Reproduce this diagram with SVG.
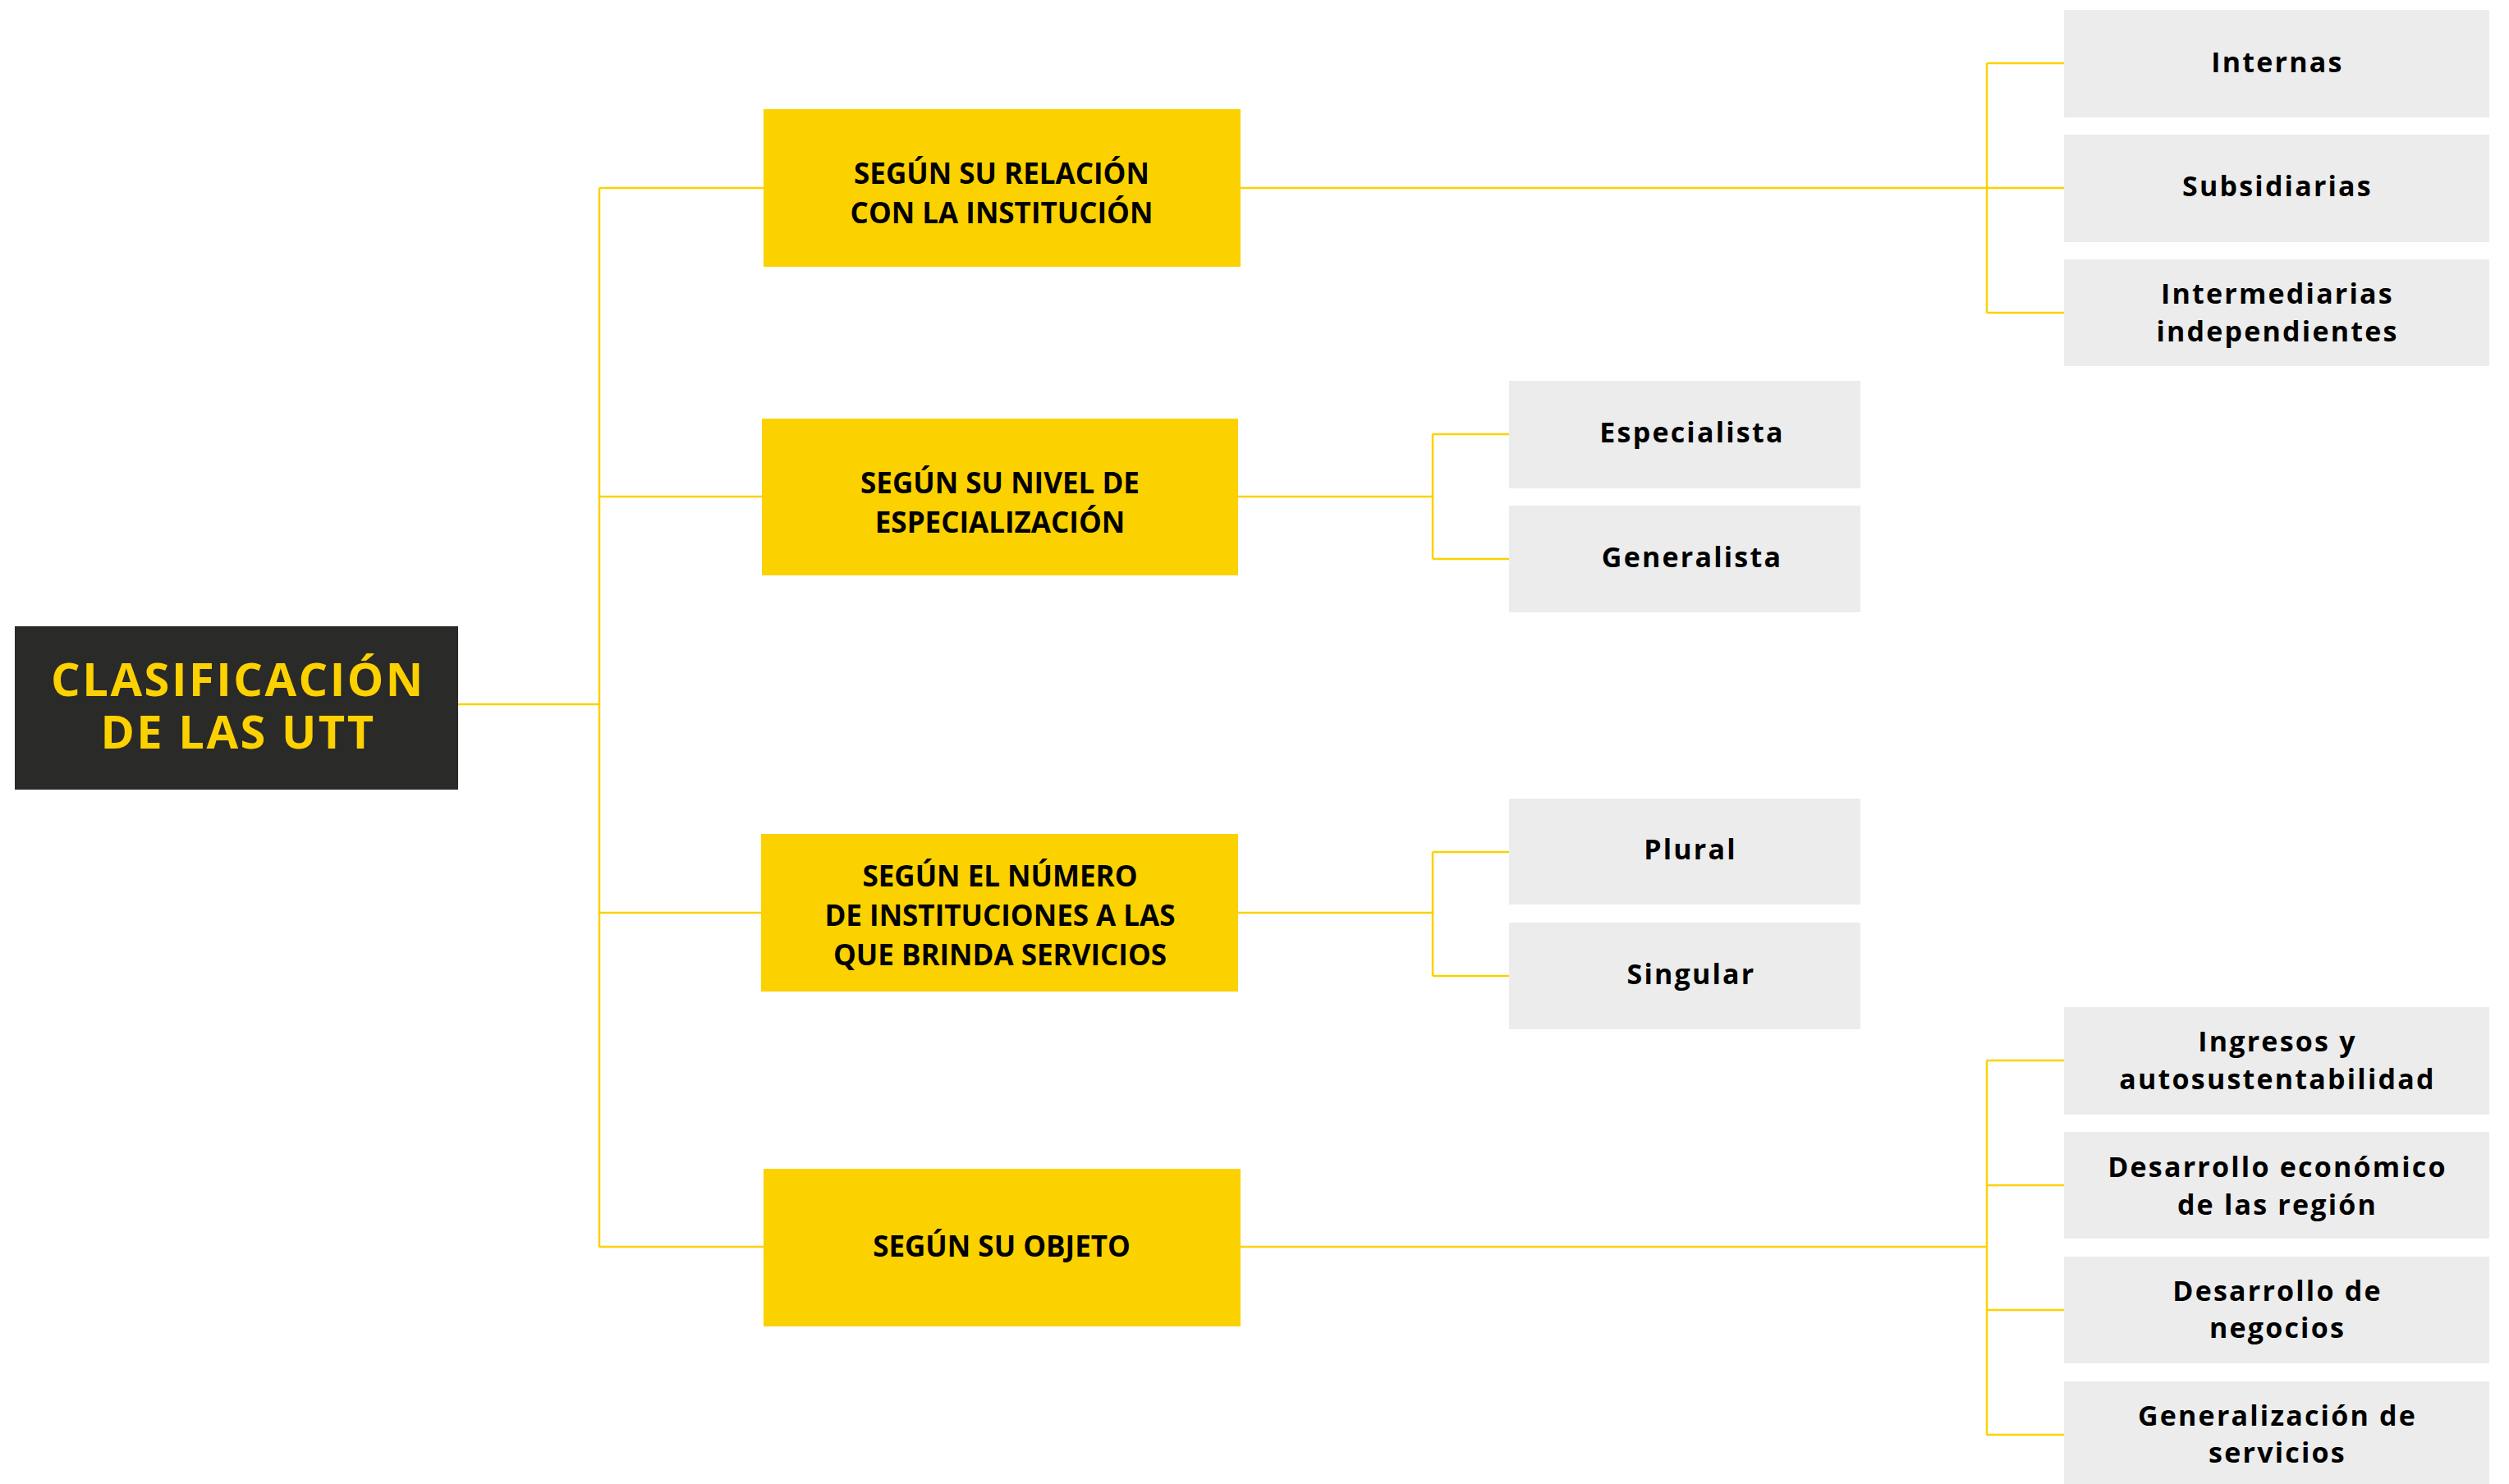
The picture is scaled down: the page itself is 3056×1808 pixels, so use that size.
<svg xmlns="http://www.w3.org/2000/svg" width="3056" height="1808" viewBox="0 0 3056 1808">
<style>
.bg{fill:#ffffff}
.root{fill:#2a2a28}
.cat{fill:#fcd100}
.leaf{fill:#ececec}
.conn{fill:none;stroke:#fcd100;stroke-width:2.5}
.t-root{font-family:"Open Sans","Liberation Sans",sans-serif;font-weight:700;font-size:56px;letter-spacing:2.5px;fill:#fcd100;text-anchor:middle}
.t-cat{font-family:"Open Sans","Liberation Sans",sans-serif;font-weight:700;font-size:35px;fill:#000000;text-anchor:middle}
.t-leaf{font-family:"Open Sans","Liberation Sans",sans-serif;font-weight:700;font-size:34px;letter-spacing:2.2px;fill:#000000;text-anchor:middle}
</style>
<rect class="bg" x="0" y="0" width="3056" height="1808"/>
<g id="connectors">
<path class="conn" d="M558,858 H730"/>
<path class="conn" d="M730,229 V1519"/>
<path class="conn" d="M730,229 H930 M730,605 H928 M730,1112 H927 M730,1519 H930"/>
<path class="conn" d="M1511,229 H2420 M2420,77 V381 M2420,77 H2514 M2420,229 H2514 M2420,381 H2514"/>
<path class="conn" d="M1508,605 H1745 M1745,529 V681 M1745,529 H1838 M1745,681 H1838"/>
<path class="conn" d="M1508,1112 H1745 M1745,1038 V1189 M1745,1038 H1838 M1745,1189 H1838"/>
<path class="conn" d="M1511,1519 H2420 M2420,1292 V1748 M2420,1292 H2514 M2420,1444 H2514 M2420,1596 H2514 M2420,1748 H2514"/>
</g>
<g id="root">
<rect class="root" x="18" y="763" width="540" height="199"/>
<text class="t-root" x="290" y="848">CLASIFICACIÓN</text>
<text class="t-root" x="290" y="912">DE LAS UTT</text>
</g>
<g id="cat-relacion">
<rect class="cat" x="930" y="133" width="581" height="192"/>
<text class="t-cat" x="1220" y="224">SEGÚN SU RELACIÓN</text>
<text class="t-cat" x="1220" y="272">CON LA INSTITUCIÓN</text>
</g>
<g id="cat-nivel">
<rect class="cat" x="928" y="510" width="580" height="191"/>
<text class="t-cat" x="1218" y="601">SEGÚN SU NIVEL DE</text>
<text class="t-cat" x="1218" y="649">ESPECIALIZACIÓN</text>
</g>
<g id="cat-numero">
<rect class="cat" x="927" y="1016" width="581" height="192"/>
<text class="t-cat" x="1218" y="1080">SEGÚN EL NÚMERO</text>
<text class="t-cat" x="1218" y="1128">DE INSTITUCIONES A LAS</text>
<text class="t-cat" x="1218" y="1176">QUE BRINDA SERVICIOS</text>
</g>
<g id="cat-objeto">
<rect class="cat" x="930" y="1424" width="581" height="192"/>
<text class="t-cat" x="1220" y="1531">SEGÚN SU OBJETO</text>
</g>
<g id="leaf-internas">
<rect class="leaf" x="2514" y="12" width="518" height="131"/>
<text class="t-leaf" x="2774" y="88">Internas</text>
</g>
<g id="leaf-subsidiarias">
<rect class="leaf" x="2514" y="164" width="518" height="131"/>
<text class="t-leaf" x="2774" y="239">Subsidiarias</text>
</g>
<g id="leaf-intermediarias">
<rect class="leaf" x="2514" y="316" width="518" height="130"/>
<text class="t-leaf" x="2774" y="370">Intermediarias</text>
<text class="t-leaf" x="2774" y="416">independientes</text>
</g>
<g id="leaf-especialista">
<rect class="leaf" x="1838" y="464" width="428" height="131"/>
<text class="t-leaf" x="2061" y="539">Especialista</text>
</g>
<g id="leaf-generalista">
<rect class="leaf" x="1838" y="616" width="428" height="130"/>
<text class="t-leaf" x="2061" y="691">Generalista</text>
</g>
<g id="leaf-plural">
<rect class="leaf" x="1838" y="973" width="428" height="129"/>
<text class="t-leaf" x="2059" y="1047">Plural</text>
</g>
<g id="leaf-singular">
<rect class="leaf" x="1838" y="1124" width="428" height="130"/>
<text class="t-leaf" x="2060" y="1199">Singular</text>
</g>
<g id="leaf-ingresos">
<rect class="leaf" x="2514" y="1227" width="518" height="131"/>
<text class="t-leaf" x="2774" y="1281">Ingresos y</text>
<text class="t-leaf" x="2774" y="1327">autosustentabilidad</text>
</g>
<g id="leaf-desarrollo-economico">
<rect class="leaf" x="2514" y="1379" width="518" height="130"/>
<text class="t-leaf" x="2774" y="1434">Desarrollo económico</text>
<text class="t-leaf" x="2774" y="1480">de las región</text>
</g>
<g id="leaf-desarrollo-negocios">
<rect class="leaf" x="2514" y="1531" width="518" height="130"/>
<text class="t-leaf" x="2774" y="1585">Desarrollo de</text>
<text class="t-leaf" x="2774" y="1630">negocios</text>
</g>
<g id="leaf-generalizacion">
<rect class="leaf" x="2514" y="1683" width="518" height="131"/>
<text class="t-leaf" x="2774" y="1737">Generalización de</text>
<text class="t-leaf" x="2774" y="1782">servicios</text>
</g>
</svg>
